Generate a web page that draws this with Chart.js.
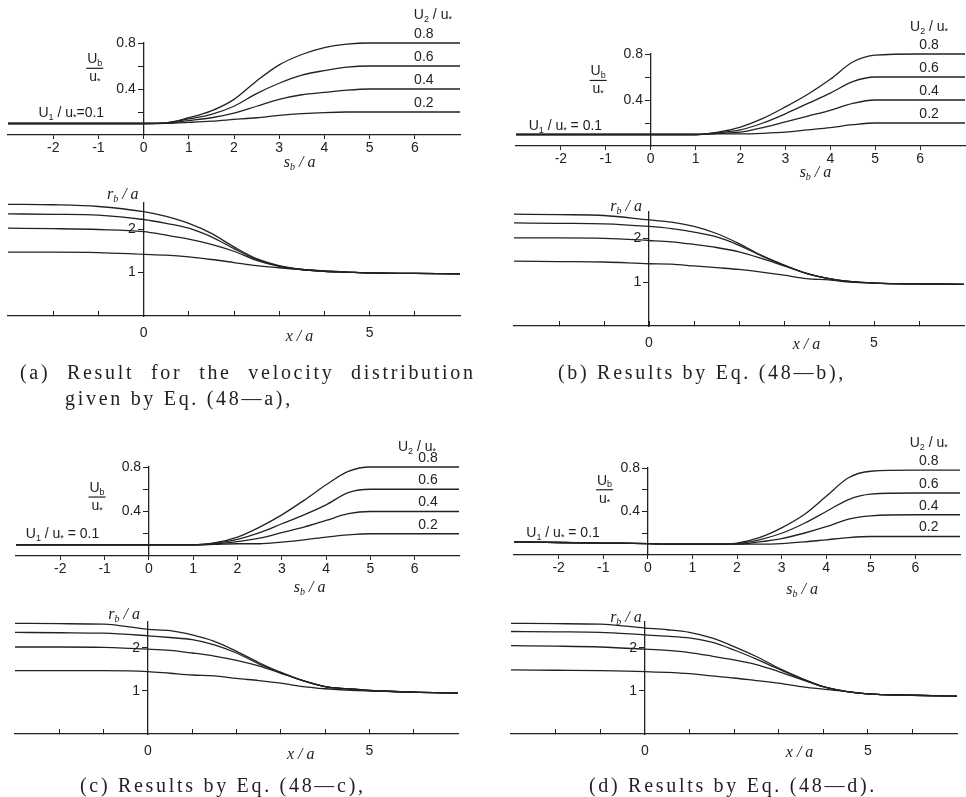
<!DOCTYPE html>
<html>
<head>
<meta charset="utf-8">
<script src="https://cdn.jsdelivr.net/npm/chart.js@4.4.1/dist/chart.umd.min.js"></script>
<style>
  body { margin: 0; background: #fff; width: 966px; height: 797px; position: relative; overflow: hidden; }
  canvas { position: absolute; }
  .cap { position: absolute; font-family: 'Liberation Serif', 'DejaVu Serif', serif; font-size: 20px; color: #222;
         letter-spacing: 2.7px; white-space: nowrap; line-height: 22px; }
</style>
</head>
<body>
<canvas id="aTop" width="480" height="200" style="left:0px;top:0px"></canvas>
<canvas id="aBot" width="480" height="175" style="left:0px;top:180px"></canvas>
<canvas id="bTop" width="486" height="200" style="left:480px;top:0px"></canvas>
<canvas id="bBot" width="486" height="180" style="left:480px;top:180px"></canvas>
<canvas id="cTop" width="480" height="200" style="left:0px;top:400px"></canvas>
<canvas id="cBot" width="480" height="185" style="left:0px;top:580px"></canvas>
<canvas id="dTop" width="486" height="200" style="left:480px;top:400px"></canvas>
<canvas id="dBot" width="486" height="185" style="left:480px;top:580px"></canvas>

<div class="cap" style="left:20px;top:361px;word-spacing:9px">(a) Result for the velocity distribution</div>
<div class="cap" style="left:65px;top:387px">given by Eq. (48—a),</div>
<div class="cap" style="left:558px;top:361px">(b) Results by Eq. (48—b),</div>
<div class="cap" style="left:80px;top:774px">(c) Results by Eq. (48—c),</div>
<div class="cap" style="left:589px;top:774px">(d) Results by Eq. (48—d).</div>

<script>
// x positions (s_b/a for the upper plots, x/a for the lower plots)
const xs = [-3, -2, -1, 0, 0.5, 1, 1.5, 2, 2.5, 3, 3.5, 4, 4.5, 5, 6, 7];
const u2Values = ['0.8', '0.6', '0.4', '0.2'];

// Ub/u* for U2/u* = 0.8, 0.6, 0.4, 0.2
const aUb = [
  [0.1, 0.1, 0.1, 0.1, 0.105, 0.15, 0.21, 0.31, 0.47, 0.61, 0.70, 0.76, 0.79, 0.8, 0.8, 0.8],
  [0.1, 0.1, 0.1, 0.1, 0.105, 0.14, 0.18, 0.25, 0.36, 0.45, 0.52, 0.56, 0.59, 0.6, 0.6, 0.6],
  [0.1, 0.1, 0.1, 0.1, 0.103, 0.125, 0.15, 0.19, 0.25, 0.31, 0.35, 0.37, 0.39, 0.4, 0.4, 0.4],
  [0.1, 0.1, 0.1, 0.1, 0.102, 0.11, 0.12, 0.135, 0.15, 0.17, 0.185, 0.195, 0.2, 0.2, 0.2, 0.2]
];
const bUb = [
  [0.1, 0.1, 0.1, 0.1, 0.1, 0.1, 0.12, 0.165, 0.24, 0.34, 0.45, 0.58, 0.73, 0.79, 0.8, 0.8],
  [0.1, 0.1, 0.1, 0.1, 0.1, 0.1, 0.115, 0.14, 0.2, 0.28, 0.37, 0.46, 0.56, 0.6, 0.6, 0.6],
  [0.1, 0.1, 0.1, 0.1, 0.1, 0.1, 0.11, 0.12, 0.16, 0.21, 0.26, 0.31, 0.37, 0.4, 0.4, 0.4],
  [0.1, 0.1, 0.1, 0.1, 0.1, 0.1, 0.105, 0.105, 0.11, 0.12, 0.14, 0.16, 0.185, 0.2, 0.2, 0.2]
];
const cUb = [
  [0.1, 0.1, 0.1, 0.1, 0.1, 0.1, 0.12, 0.17, 0.26, 0.37, 0.5, 0.64, 0.76, 0.8, 0.8, 0.8],
  [0.1, 0.1, 0.1, 0.1, 0.1, 0.1, 0.115, 0.15, 0.21, 0.29, 0.37, 0.46, 0.57, 0.6, 0.6, 0.6],
  [0.1, 0.1, 0.1, 0.1, 0.1, 0.1, 0.11, 0.13, 0.16, 0.21, 0.26, 0.32, 0.38, 0.4, 0.4, 0.4],
  [0.1, 0.1, 0.1, 0.1, 0.1, 0.1, 0.105, 0.11, 0.11, 0.125, 0.145, 0.17, 0.19, 0.2, 0.2, 0.2]
];
const dUb = [
  [0.12, 0.115, 0.11, 0.105, 0.1, 0.1, 0.1, 0.11, 0.16, 0.25, 0.37, 0.54, 0.71, 0.77, 0.78, 0.78],
  [0.12, 0.115, 0.11, 0.105, 0.1, 0.1, 0.1, 0.105, 0.14, 0.2, 0.29, 0.40, 0.51, 0.56, 0.57, 0.57],
  [0.12, 0.115, 0.11, 0.105, 0.1, 0.1, 0.1, 0.1, 0.12, 0.15, 0.2, 0.26, 0.33, 0.36, 0.37, 0.37],
  [0.12, 0.115, 0.11, 0.105, 0.1, 0.1, 0.1, 0.1, 0.1, 0.105, 0.12, 0.14, 0.16, 0.17, 0.17, 0.17]
];

// rb/a, same order of curves (top to bottom)
const aRb = [
  [2.57, 2.56, 2.52, 2.40, 2.29, 2.13, 1.90, 1.59, 1.32, 1.16, 1.07, 1.03, 1.01, 0.99, 0.98, 0.97],
  [2.35, 2.34, 2.32, 2.22, 2.13, 2.02, 1.82, 1.55, 1.30, 1.15, 1.07, 1.03, 1.01, 0.99, 0.98, 0.97],
  [2.02, 2.01, 1.99, 1.94, 1.86, 1.77, 1.65, 1.49, 1.28, 1.14, 1.07, 1.03, 1.01, 0.99, 0.98, 0.97],
  [1.47, 1.47, 1.46, 1.42, 1.40, 1.36, 1.30, 1.23, 1.16, 1.11, 1.07, 1.04, 1.01, 0.99, 0.98, 0.97]
];
const bRb = [
  [2.55, 2.54, 2.52, 2.42, 2.37, 2.27, 2.11, 1.88, 1.61, 1.39, 1.20, 1.08, 1.01, 0.98, 0.96, 0.95],
  [2.35, 2.34, 2.33, 2.27, 2.22, 2.14, 2.03, 1.84, 1.60, 1.39, 1.20, 1.08, 1.01, 0.98, 0.96, 0.95],
  [2.01, 2.01, 2.00, 1.95, 1.92, 1.86, 1.79, 1.69, 1.54, 1.37, 1.20, 1.08, 1.01, 0.98, 0.96, 0.95],
  [1.48, 1.47, 1.46, 1.42, 1.41, 1.37, 1.33, 1.29, 1.23, 1.16, 1.08, 1.05, 1.00, 0.98, 0.96, 0.95]
];
const cRb = [
  [2.57, 2.56, 2.55, 2.43, 2.40, 2.30, 2.15, 1.92, 1.66, 1.43, 1.24, 1.10, 1.05, 1.01, 0.97, 0.95],
  [2.36, 2.35, 2.34, 2.28, 2.24, 2.19, 2.07, 1.88, 1.63, 1.43, 1.24, 1.10, 1.05, 1.01, 0.97, 0.95],
  [2.02, 2.02, 2.01, 1.97, 1.94, 1.88, 1.81, 1.71, 1.58, 1.41, 1.24, 1.10, 1.05, 1.01, 0.97, 0.95],
  [1.47, 1.47, 1.47, 1.45, 1.41, 1.37, 1.35, 1.29, 1.24, 1.18, 1.10, 1.05, 1.02, 1.00, 0.97, 0.95]
];
const dRb = [
  [2.57, 2.56, 2.55, 2.46, 2.42, 2.36, 2.23, 2.03, 1.80, 1.53, 1.30, 1.10, 0.99, 0.93, 0.90, 0.88],
  [2.38, 2.37, 2.36, 2.30, 2.27, 2.23, 2.13, 1.95, 1.74, 1.51, 1.29, 1.10, 0.99, 0.93, 0.90, 0.88],
  [2.05, 2.04, 2.02, 1.97, 1.94, 1.89, 1.81, 1.72, 1.61, 1.45, 1.27, 1.10, 0.99, 0.93, 0.90, 0.88],
  [1.49, 1.48, 1.47, 1.45, 1.43, 1.40, 1.35, 1.30, 1.24, 1.18, 1.10, 1.04, 0.99, 0.93, 0.90, 0.88]
];

const ink = '#222';
const sans = "'Liberation Sans', 'DejaVu Sans', sans-serif";
const serif = "'Liberation Serif', 'DejaVu Serif', serif";

// draws text with "_x" parts as subscripts, returns width
function rich(ctx, parts, x, y, align, size, style, fam) {
  const segs = parts.map(p => {
    const sub = p[0] === '_' && p.length > 1;
    const t = sub ? p.slice(1) : p;
    const f = (style || '') + ' ' + (sub ? Math.round(size * 0.62) : size) + 'px ' + (fam || sans);
    ctx.font = f;
    return { t, f, sub, w: ctx.measureText(t).width };
  });
  const tw = segs.reduce((a, s) => a + s.w, 0);
  let cx = align === 'center' ? x - tw / 2 : align === 'right' ? x - tw : x;
  ctx.textAlign = 'left';
  ctx.textBaseline = 'middle';
  segs.forEach(s => {
    ctx.font = s.f;
    ctx.fillText(s.t, cx, y + (s.sub ? size * 0.3 : 0));
    cx += s.w;
  });
  return tw;
}

const notes = {
  id: 'notes',
  afterDraw(chart, args, opts) {
    const ctx = chart.ctx;
    const sx = chart.scales.x, sy = chart.scales.y;
    ctx.save();
    ctx.fillStyle = ink;
    ctx.strokeStyle = ink;
    (opts.items || []).forEach(n => {
      const px = sx.getPixelForValue(n.x) + (n.dx || 0);
      const py = sy.getPixelForValue(n.y) + (n.dy || 0);
      const size = n.size || 14;
      if (n.frac) {
        const w1 = rich(ctx, n.top, px, py - 9, 'center', size, '', sans);
        const w2 = rich(ctx, n.bot, px, py + 9, 'center', size, '', sans);
        const w = Math.max(w1, w2) + 2;
        ctx.lineWidth = 1.2;
        ctx.beginPath();
        ctx.moveTo(px - w / 2, py);
        ctx.lineTo(px + w / 2, py);
        ctx.stroke();
      } else {
        rich(ctx, n.parts, px, py, n.align || 'center', size, n.italic ? 'italic' : '', n.italic ? serif : sans);
      }
    });
    ctx.restore();
  }
};

function lines(curves) {
  return curves.map(c => ({
    data: xs.map((x, i) => ({ x: x, y: c[i] })),
    borderColor: ink,
    borderWidth: 1.3,
    pointRadius: 0,
    cubicInterpolationMode: 'monotone',
    clip: false
  }));
}

function makeChart(id, curves, upper, pad, axisH, items) {
  const ySteps = upper ? [0.2, 0.4, 0.6, 0.8] : [1, 2];
  new Chart(document.getElementById(id), {
    type: 'line',
    data: { datasets: lines(curves) },
    options: {
      responsive: false,
      animation: false,
      events: [],
      layout: { padding: { left: pad[0], right: pad[1], top: pad[2], bottom: 0 } },
      plugins: { legend: { display: false }, tooltip: { enabled: false }, notes: { items: items } },
      scales: {
        x: {
          type: 'linear', min: -3, max: 7,
          afterBuildTicks: s => { s.ticks = [-2, -1, 0, 1, 2, 3, 4, 5, 6].map(v => ({ value: v })); },
          afterFit: s => { s.height = axisH; },
          grid: { display: true, drawOnChartArea: false, color: ink, lineWidth: 1, tickLength: upper ? 4 : -5 },
          border: { display: true, color: ink, width: 1.3 },
          ticks: {
            color: ink, font: { family: sans, size: 14 }, maxRotation: 0, autoSkip: false,
            padding: upper ? 1 : 14,
            callback: v => upper ? String(v) : (v === 0 || v === 5 ? String(v) : '')
          }
        },
        y: {
          type: 'linear', min: 0, max: upper ? 0.8 : 2.6,
          position: { x: 0 },
          afterBuildTicks: s => { s.ticks = ySteps.map(v => ({ value: v })); },
          grid: { display: true, drawOnChartArea: false, color: ink, lineWidth: 1, tickLength: 5 },
          border: { display: true, color: ink, width: 1.3 },
          ticks: {
            color: ink, font: { family: sans, size: 14 }, padding: 1,
            // labels sit on the axis when it is placed at x = 0, the spaces keep them clear of the tick marks
            callback: v => upper ? (v === 0.4 || v === 0.8 ? v.toFixed(1) + '  ' : '') : String(v) + '  '
          }
        }
      }
    },
    plugins: [notes]
  });
}

function upperNotes(cfg) {
  const items = [
    { x: cfg.hx, y: 0.8, dy: cfg.hdy, parts: ['U', '_2', ' / u', '_*'] },
    { x: cfg.ux, y: 0.1, dy: cfg.udy, parts: ['U', '_1', ' / u', '_*', cfg.eq] },
    { frac: true, x: cfg.fx, y: cfg.fy, top: ['U', '_b'], bot: ['u', '_*'] },
    { x: cfg.tx, y: 0, dy: cfg.tdy, parts: ['s', '_b', ' / a'], italic: true, size: 16 }
  ];
  cfg.levels.forEach((lv, i) => items.push({ x: cfg.vx, y: lv, dy: -9, parts: [u2Values[i]] }));
  return items;
}

function lowerNotes(cfg) {
  return [
    { x: 0, y: 2.6, dx: cfg.rdx, dy: cfg.rdy, align: 'right', parts: ['r', '_b', ' / a'], italic: true, size: 16 },
    { x: cfg.tx, y: 0, dy: cfg.tdy, parts: ['x / a'], italic: true, size: 16 }
  ];
}

// (a)
makeChart('aTop', aUb, true, [8, 20, 43], 65, upperNotes({
  hx: 6.4, hdy: -28, ux: -1.6, udy: -10, eq: '=0.1', fx: -1.08, fy: 0.58, tx: 3.45, tdy: 28,
  vx: 6.2, levels: [0.8, 0.6, 0.4, 0.2]
}));
makeChart('aBot', aRb, false, [8, 20, 23], 39, lowerNotes({ rdx: -5, rdy: -8, tx: 3.45, tdy: 21 }));

// (b)
makeChart('bTop', bUb, true, [36, 1, 54], 54, upperNotes({
  hx: 6.2, hdy: -27, ux: -1.9, udy: -8, eq: ' = 0.1', fx: -1.17, fy: 0.57, tx: 3.67, tdy: 27,
  vx: 6.2, levels: [0.8, 0.6, 0.4, 0.2]
}));
makeChart('bBot', bRb, false, [34, 2, 32], 34, lowerNotes({ rdx: -7, rdy: -5, tx: 3.5, tdy: 19 }));

// (c)
makeChart('cTop', cUb, true, [16, 21, 67], 44, upperNotes({
  hx: 6.05, hdy: -20, ux: -1.95, udy: -11, eq: ' = 0.1', fx: -1.17, fy: 0.53, tx: 3.63, tdy: 32,
  vx: 6.3, levels: [0.8, 0.6, 0.4, 0.2]
}));
makeChart('cBot', cRb, false, [15, 22, 42], 31, lowerNotes({ rdx: -8, rdy: -7, tx: 3.45, tdy: 21 }));

// (d)
makeChart('dTop', dUb, true, [34, 6, 68], 45, upperNotes({
  hx: 6.3, hdy: -25, ux: -1.9, udy: -11, eq: ' = 0.1', fx: -0.97, fy: 0.6, tx: 3.46, tdy: 35,
  vx: 6.3, levels: [0.78, 0.57, 0.37, 0.17]
}));
makeChart('dBot', dRb, false, [31, 9, 42], 31, lowerNotes({ rdx: -3, rdy: -4, tx: 3.47, tdy: 19 }));
</script>
</body>
</html>
